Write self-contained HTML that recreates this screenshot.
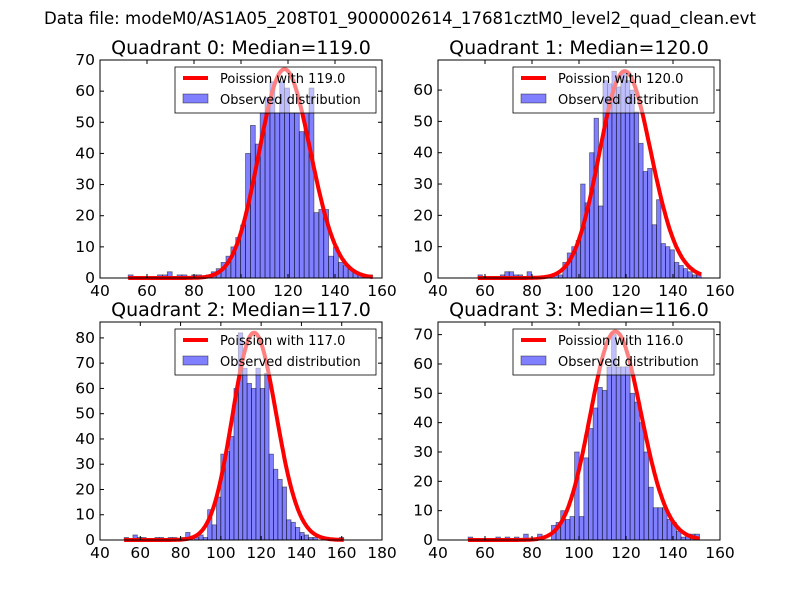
<!DOCTYPE html>
<html><head><meta charset="utf-8"><style>
html,body{margin:0;padding:0;background:#fff;}
svg{display:block;font-family:"DejaVu Sans","Liberation Sans",sans-serif;}
</style></head><body>
<svg id="chart" width="800" height="600" xmlns="http://www.w3.org/2000/svg">
<rect width="800" height="600" fill="#fff"/>
<text x="400" y="24" font-size="16.6" text-anchor="middle">Data file: modeM0/AS1A05_208T01_9000002614_17681cztM0_level2_quad_clean.evt</text>
</svg>
<script>
const medians = [119.0, 120.0, 117.0, 116.0];
const binStarts = [52, 57, 52, 52.8];
const binWidths = [2.08, 1.9, 2.18, 1.97];
const counts0 = [1,0,0,0,0,0,1,1,2,0,1,1,0,1,1,0,1,2,3,5,7,10,13,17,40,49,43,53,58,63,53,63,61,53,53,47,53,61,21,22,22,7,10,5,4,3,2,1,1,1];
const counts1 = [1,0,0,0,0,1,2,2,1,1,0,2,0,0,0,0,0,1,1,5,8,10,12,30,24,40,51,23,63,62,66,61,66,63,60,53,43,34,35,17,25,11,10,9,5,4,3,2,1,1];
const counts2 = [1,0,2,1,1,0,0,1,1,0,1,1,0,1,3,0,1,2,1,12,6,17,34,35,41,60,82,68,62,60,68,60,66,34,28,24,21,8,7,5,3,2,1,1,0,0,0,0,0,1];
const counts3 = [1,0,0,0,0,0,1,0,1,0,1,0,2,0,0,2,0,0,5,6,10,7,8,30,8,28,38,45,52,51,59,70,59,59,59,50,47,40,30,18,11,11,11,7,6,3,1,2,2,2];
const curvePeaks = [67, 66, 82, 71];
const xTicks0 = [40,60,80,100,120,140,160];
const xTicks2 = [40,60,80,100,120,140,160,180];
const yTicks0 = [0,10,20,30,40,50,60,70];
const yTicks1 = [0,10,20,30,40,50,60];
const yTicks2 = [0,10,20,30,40,50,60,70,80];
const yTicks3 = [0,10,20,30,40,50,60,70];
const xMaxes = [160,160,180,160];
const yMaxes = [70,69.6,86.3,74.3];

const NS="http://www.w3.org/2000/svg";
const svg=document.getElementById('chart');
function mk(tag,attrs,parent){const e=document.createElementNS(NS,tag);for(const k in attrs)e.setAttribute(k,attrs[k]);(parent||svg).appendChild(e);return e;}
function lgamma(z){
  return (z-0.5)*Math.log(z)-z+0.5*Math.log(2*Math.PI)+1/(12*z)-1/(360*z*z*z);
}
function pois(x,l){return Math.exp(x*Math.log(l)-l-lgamma(x+1));}

const allCounts=[counts0,counts1,counts2,counts3];
const allX=[xTicks0,xTicks0,xTicks2,xTicks0];
const allY=[yTicks0,yTicks1,yTicks2,yTicks3];
const boxes=[[100,60],[438,60],[100,322],[438,322]];
const W=282,H=218;

for(let q=0;q<4;q++){
  const [L,T]=boxes[q];
  const g=mk('g',{});
  
  
  const xs=v=>L+(v-40)/(xMaxes[q]-40)*W;
  const ys=v=>T+H-v/yMaxes[q]*H;
  const cnt=allCounts[q];
  for(let i=0;i<cnt.length;i++){
    if(cnt[i]<=0)continue;
    const x0=xs(binStarts[q]+i*binWidths[q]), x1=xs(binStarts[q]+(i+1)*binWidths[q]);
    const r=mk('rect',{x:x0,y:ys(cnt[i]),width:x1-x0,height:ys(0)-ys(cnt[i]),fill:'rgba(0,0,255,0.5)',stroke:'rgba(0,0,0,0.5)','stroke-width':0.8},g);
    
    
  }
  const lam=medians[q], pk=pois(lam,lam);
  const xa=binStarts[q], xb=binStarts[q]+binWidths[q]*cnt.length;
  let d='';
  for(let k=0;k<=200;k++){const x=xa+(xb-xa)*k/200;const y=curvePeaks[q]*pois(x,lam)/pk;d+=(k?'L':'M')+xs(x).toFixed(1)+','+ys(y).toFixed(1);}
  const c=mk('path',{d:d,fill:'none',stroke:'#f00','stroke-width':4,'stroke-linejoin':'round'},g);
  
  
  const lg=mk('g',{},g);
  
  
  mk('rect',{x:L+75,y:T+7,width:201,height:46,fill:'rgba(255,255,255,0.5)',stroke:'#000','stroke-width':0.8},lg);
  mk('line',{x1:L+83,y1:T+18,x2:L+108,y2:T+18,stroke:'#f00','stroke-width':4},lg);
  mk('rect',{x:L+83,y:T+34,width:25,height:9,fill:'rgba(0,0,255,0.5)',stroke:'rgba(0,0,0,0.5)','stroke-width':0.8},lg);
  const t1=mk('text',{x:L+120,y:T+23,'font-size':13},lg);t1.textContent='Poission with '+lam.toFixed(1);
  
  
  const t2=mk('text',{x:L+120,y:T+44,'font-size':13},lg);t2.textContent='Observed distribution';
  
  
  mk('rect',{x:L,y:T,width:W,height:H,fill:'none',stroke:'#000','stroke-width':1},g);
  allX[q].forEach(v=>{const x=xs(v);
    mk('line',{x1:x,y1:T+H,x2:x,y2:T+H-4,stroke:'#000'},g);
    mk('line',{x1:x,y1:T,x2:x,y2:T+4,stroke:'#000'},g);
    const t=mk('text',{x:x,y:T+H+18,'font-size':15.5,'text-anchor':'middle'},g);t.textContent=v;
    
    
  });
  allY[q].forEach(v=>{const y=ys(v);
    mk('line',{x1:L,y1:y,x2:L+4,y2:y,stroke:'#000'},g);
    mk('line',{x1:L+W,y1:y,x2:L+W-4,y2:y,stroke:'#000'},g);
    const t=mk('text',{x:L-5,y:y+5,'font-size':15.5,'text-anchor':'end'},g);t.textContent=v;
    
    
  });
  const tt=mk('text',{x:L+W/2,y:T-6,'font-size':19,'text-anchor':'middle'},g);
  tt.textContent='Quadrant '+q+': Median='+lam.toFixed(1);
  
  
}
</script>
</body></html>
